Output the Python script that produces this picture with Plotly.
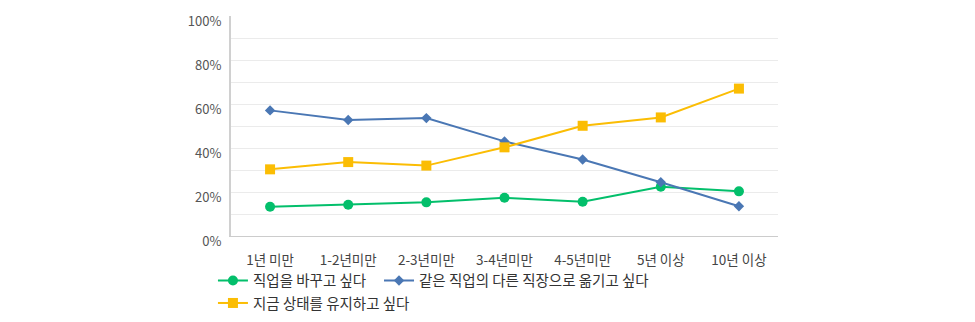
import plotly.graph_objects as go

categories = ["1년 미만", "1-2년미만", "2-3년미만", "3-4년미만", "4-5년미만", "5년 이상", "10년 이상"]
change_job = [13.3, 14.2, 15.3, 17.4, 15.6, 22.4, 20.3]
move_company = [57.1, 52.7, 53.6, 43.0, 34.8, 24.4, 13.5]
stay = [30.3, 33.6, 32.0, 40.3, 50.1, 53.9, 67.0]

names = ["직업을 바꾸고 싶다", "같은 직업의 다른 직장으로 옮기고 싶다", "지금 상태를 유지하고 싶다"]
series = [change_job, move_company, stay]
colors = ["#03bf6b", "#4a77b4", "#fbbd04"]
symbols = ["circle", "diamond", "square"]
sizes = [10, 8, 10]
legend_ids = ["legend", "legend2", "legend3"]

font_family = "Noto Sans CJK KR, Noto Sans, sans-serif"

fig = go.Figure()
for name, vals, c, s, sz, lg in zip(names, series, colors, symbols, sizes, legend_ids):
    fig.add_trace(go.Scatter(
        x=categories, y=vals, name=name, mode="lines+markers",
        line=dict(color=c, width=2),
        marker=dict(color=c, symbol=s, size=sz),
        legend=lg,
    ))

leg_common = dict(orientation="h", xanchor="left", yanchor="top",
                  font=dict(size=14.5, color="#333"), itemwidth=30,
                  bgcolor="rgba(0,0,0,0)")

fig.update_layout(
    width=975, height=322,
    margin=dict(l=231, r=197, t=16, b=86, autoexpand=False),
    paper_bgcolor="white", plot_bgcolor="white",
    font=dict(family=font_family, size=12, color="#555"),
    showlegend=True,
    legend=dict(x=-0.033, y=-0.130, **leg_common),
    legend2=dict(x=0.2706, y=-0.130, **leg_common),
    legend3=dict(x=-0.033, y=-0.232, **leg_common),
    xaxis=dict(type="category", range=[-0.5, 6.5], showgrid=False,
               showline=True, linecolor="#cccccc", linewidth=1,
               ticks="", ticklabelstandoff=12, tickfont=dict(size=13.5, color="#444")),
    yaxis=dict(range=[0, 100], dtick=20, ticksuffix="%", showgrid=True,
               gridcolor="#ebebeb", gridwidth=1,
               minor=dict(dtick=10, showgrid=True, gridcolor="#ebebeb", gridwidth=1),
               showline=True, linecolor="#d0d0d0", linewidth=2,
               zeroline=False, ticks="", ticklabelstandoff=5, ticklabelshift=5,
               tickfont=dict(size=13, color="#555")),
)

fig.write_html("out.html")
